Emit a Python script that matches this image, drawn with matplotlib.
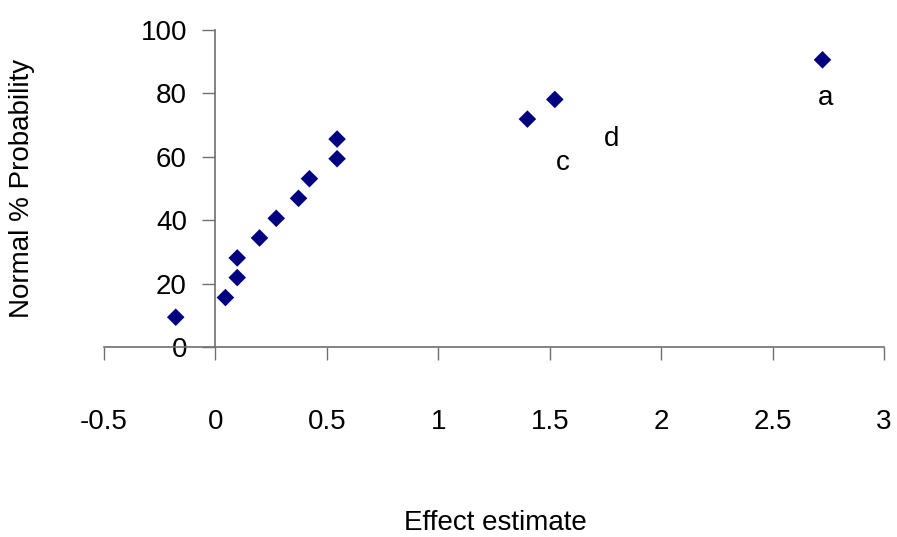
import matplotlib
matplotlib.use('Agg')
import matplotlib.pyplot as plt

# effect estimates and normal % probability
effects = [-0.178, 0.045, 0.098, 0.098, 0.198, 0.273, 0.373, 0.422, 0.546, 0.546, 1.40, 1.523, 2.724]
probs = [9.4, 15.6, 21.9, 28.1, 34.4, 40.6, 46.9, 53.1, 59.4, 65.6, 71.9, 78.1, 90.6]

# labelled effects
label_text = ['c', 'd', 'a']
label_x = [1.559, 1.778, 2.74]
label_y = [58.1, 65.7, 78.5]

xticks = [-0.5, 0, 0.5, 1, 1.5, 2, 2.5, 3]
xtick_labels = ['-0.5', '0', '0.5', '1', '1.5', '2', '2.5', '3']
yticks = [0, 20, 40, 60, 80, 100]

plt.rcParams['font.family'] = ['Liberation Sans', 'DejaVu Sans']
FS = 20

fig = plt.figure(figsize=(8.97, 5.37), dpi=100)
ax = fig.add_axes([0.1159, 0.3538, 0.9855 - 0.1159, 0.9441 - 0.3538])

ax.scatter(effects, probs, marker='D', s=80, color='#000080', edgecolors='none', zorder=3)

for t, x, y in zip(label_text, label_x, label_y):
    ax.text(x, y, t, fontsize=FS, ha='center', va='center')

ax.set_xlim(-0.5, 3)
ax.set_ylim(0, 100)

axis_col = '#707070'
ax.spines['top'].set_visible(False)
ax.spines['right'].set_visible(False)
ax.spines['left'].set_position(('data', 0))
ax.spines['bottom'].set_position(('data', 0))
ax.spines['left'].set_color(axis_col)
ax.spines['bottom'].set_color(axis_col)
ax.spines['left'].set_linewidth(1.2)
ax.spines['bottom'].set_linewidth(1.2)

ax.set_xticks(xticks)
ax.set_xticklabels(xtick_labels)
ax.set_yticks(yticks)
ax.tick_params(axis='x', direction='out', length=9.5, width=1, color=axis_col,
               labelsize=FS, pad=35)
ax.tick_params(axis='y', direction='out', length=9.5, width=1, color=axis_col,
               labelsize=FS, pad=11)

fig.text(495 / 897, 1 - 523 / 537, 'Effect estimate', fontsize=FS, ha='center', va='center')
fig.text(22 / 897, 1 - 188 / 537, 'Normal % Probability', fontsize=FS, ha='center', va='center',
         rotation=90)

plt.savefig('out.png', dpi=100)
plt.close()
